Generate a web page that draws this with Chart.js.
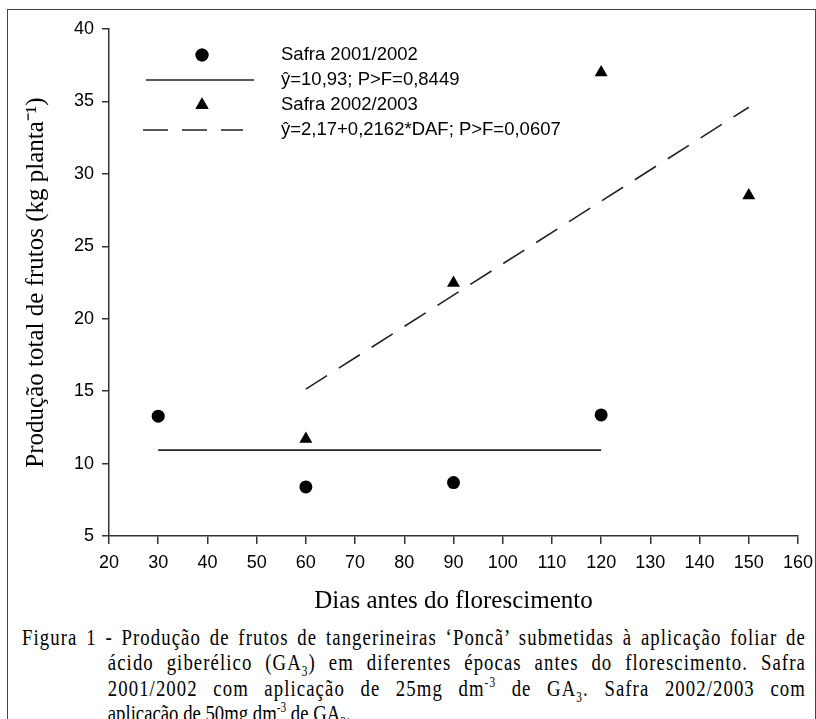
<!DOCTYPE html>
<html lang="pt-br">
<head>
<meta charset="UTF-8">
<title>Figura 1</title>
<script src="https://cdn.jsdelivr.net/npm/chart.js"></script>
<style>
    body { margin: 0; background: #fff; overflow: hidden; }
    #frame { position: absolute; left: 7px; top: 9px; width: 807px; height: 760px; border: 1px solid #444; }
    #grafico { position: absolute; left: 0; top: 0; }
    #legenda {
        position: absolute; left: 22px; top: 625px; width: 1005px;
        font-family: "Liberation Serif", "Times New Roman", serif; font-size: 24px; line-height: 25.3px;
        color: #000; transform: scaleX(0.78); transform-origin: 0 0;
    }
    #legenda .j { text-align: justify; text-align-last: justify; letter-spacing: 1.4px; }
    #legenda .ind { margin-left: 110px; }
    #legenda sup, #legenda sub { font-size: 0.6em; line-height: 0; }
</style>
</head>
<body>
<div id="frame"></div>
<canvas id="grafico" width="816" height="620"></canvas>
<div id="legenda">
    <div class="j">Figura 1 - Produção de frutos de tangerineiras ‘Poncã’ submetidas à aplicação foliar de</div>
    <div class="j ind">ácido giberélico (GA<sub>3</sub>) em diferentes épocas antes do florescimento. Safra</div>
    <div class="j ind">2001/2002 com aplicação de 25mg dm<sup>-3</sup> de GA<sub>3</sub>. Safra 2002/2003 com</div>
    <div class="ind">aplicação de 50mg dm<sup>-3</sup> de GA<sub>3</sub>.</div>
</div>

<script>
    // dados
    var dias2001 = [30, 60, 90, 120];
    var safra2001 = [13.27, 8.39, 8.69, 13.36];
    var dias2002 = [60, 90, 120, 150];
    var safra2002 = [11.7, 22.46, 37.0, 28.5];

    // linhas ajustadas (extremos)
    var mediaX = [30, 120];
    var mediaY = [10.93, 10.93];
    var regX = [60, 150];
    var regY = [15.14, 34.6];

    var xMin = 20, xMax = 160, xPasso = 10;
    var yMin = 5, yMax = 40, yPasso = 5;

    var textos = ['Safra 2001/2002', 'ŷ=10,93; P>F=0,8449', 'Safra 2002/2003', 'ŷ=2,17+0,2162*DAF; P>F=0,0607'];

    function pontos(xs, ys) {
        return xs.map((x, i) => ({ x: x, y: ys[i] }));
    }

    var sans = '"Liberation Sans", Arial, sans-serif';
    var serif = '"Liberation Serif", "Times New Roman", serif';

    var legendaPlugin = {
        id: 'legendaPlugin',
        afterDraw(chart) {
            var ctx = chart.ctx;
            var ds = chart.data.datasets;
            ctx.save();
            ctx.font = '18.5px ' + sans;
            ctx.textBaseline = 'middle';
            var linhas = [55, 80, 105, 130];
            // marcador circulo
            ctx.fillStyle = ds[0].backgroundColor;
            Chart.helpers.drawPoint(ctx, { pointStyle: 'circle', radius: ds[0].pointRadius, borderWidth: 0 }, 202, linhas[0]);
            ctx.fill();
            // linha continua
            ctx.strokeStyle = ds[1].borderColor;
            ctx.lineWidth = ds[1].borderWidth;
            ctx.beginPath(); ctx.moveTo(146, linhas[1]); ctx.lineTo(254, linhas[1]); ctx.stroke();
            // triangulo
            ctx.fillStyle = ds[2].backgroundColor;
            Chart.helpers.drawPoint(ctx, { pointStyle: 'triangle', radius: ds[2].pointRadius, borderWidth: 0 }, 202, linhas[2]);
            ctx.fill();
            // tracejada
            ctx.strokeStyle = ds[3].borderColor;
            ctx.lineWidth = ds[3].borderWidth;
            ctx.setLineDash(ds[3].borderDash);
            ctx.beginPath(); ctx.moveTo(143, linhas[3]); ctx.lineTo(243, linhas[3]); ctx.stroke();
            ctx.setLineDash([]);
            ctx.fillStyle = '#000';
            textos.forEach((t, i) => ctx.fillText(t, 281, linhas[i]));
            ctx.restore();
        }
    };

    var ctx = document.getElementById('grafico').getContext('2d');
    var chart = new Chart(ctx, {
        type: 'scatter',
        data: {
            datasets: [{
                label: textos[0],
                data: pontos(dias2001, safra2001),
                pointStyle: 'circle',
                pointRadius: 6.5,
                backgroundColor: '#000',
                borderWidth: 0
            }, {
                label: textos[1],
                data: pontos(mediaX, mediaY),
                showLine: true,
                pointRadius: 0,
                borderColor: '#222',
                borderWidth: 1.6
            }, {
                label: textos[2],
                data: pontos(dias2002, safra2002),
                pointStyle: 'triangle',
                pointRadius: 7.5,
                backgroundColor: '#000',
                borderWidth: 0
            }, {
                label: textos[3],
                data: pontos(regX, regY),
                showLine: true,
                pointRadius: 0,
                borderColor: '#222',
                borderWidth: 1.6,
                borderDash: [25, 14]
            }]
        },
        options: {
            responsive: false,
            animation: false,
            layout: { padding: { top: 29, right: 18, left: 0, bottom: 0 } },
            plugins: {
                legend: { display: false },
                tooltip: { enabled: false }
            },
            scales: {
                x: {
                    type: 'linear',
                    min: xMin, max: xMax,
                    afterFit(scale) { scale.height = 84; scale.paddingLeft = 0; scale.paddingRight = 0; },
                    ticks: { stepSize: xPasso, color: '#000', padding: 8, font: { family: sans, size: 18 }, maxRotation: 0 },
                    grid: { drawOnChartArea: false, drawTicks: true, tickLength: 8, color: '#333', lineWidth: 1.5 },
                    border: { display: true, color: '#333', width: 1.5 },
                    title: { display: true, text: 'Dias antes do florescimento', color: '#000', font: { family: serif, size: 25 }, padding: { bottom: 4 } }
                },
                y: {
                    min: yMin, max: yMax,
                    afterFit(scale) { scale.width = 109; scale.paddingTop = 0; scale.paddingBottom = 0; },
                    ticks: { stepSize: yPasso, color: '#000', padding: 8, font: { family: sans, size: 18 } },
                    grid: { drawOnChartArea: false, drawTicks: true, tickLength: 7, color: '#333', lineWidth: 1.5 },
                    border: { display: true, color: '#333', width: 1.5 },
                    title: { display: true, text: 'Produção total de frutos (kg planta⁻¹)', color: '#000', font: { family: serif, size: 25 }, padding: { top: 21 } }
                }
            }
        },
        plugins: [legendaPlugin]
    });
</script>
</body>
</html>
